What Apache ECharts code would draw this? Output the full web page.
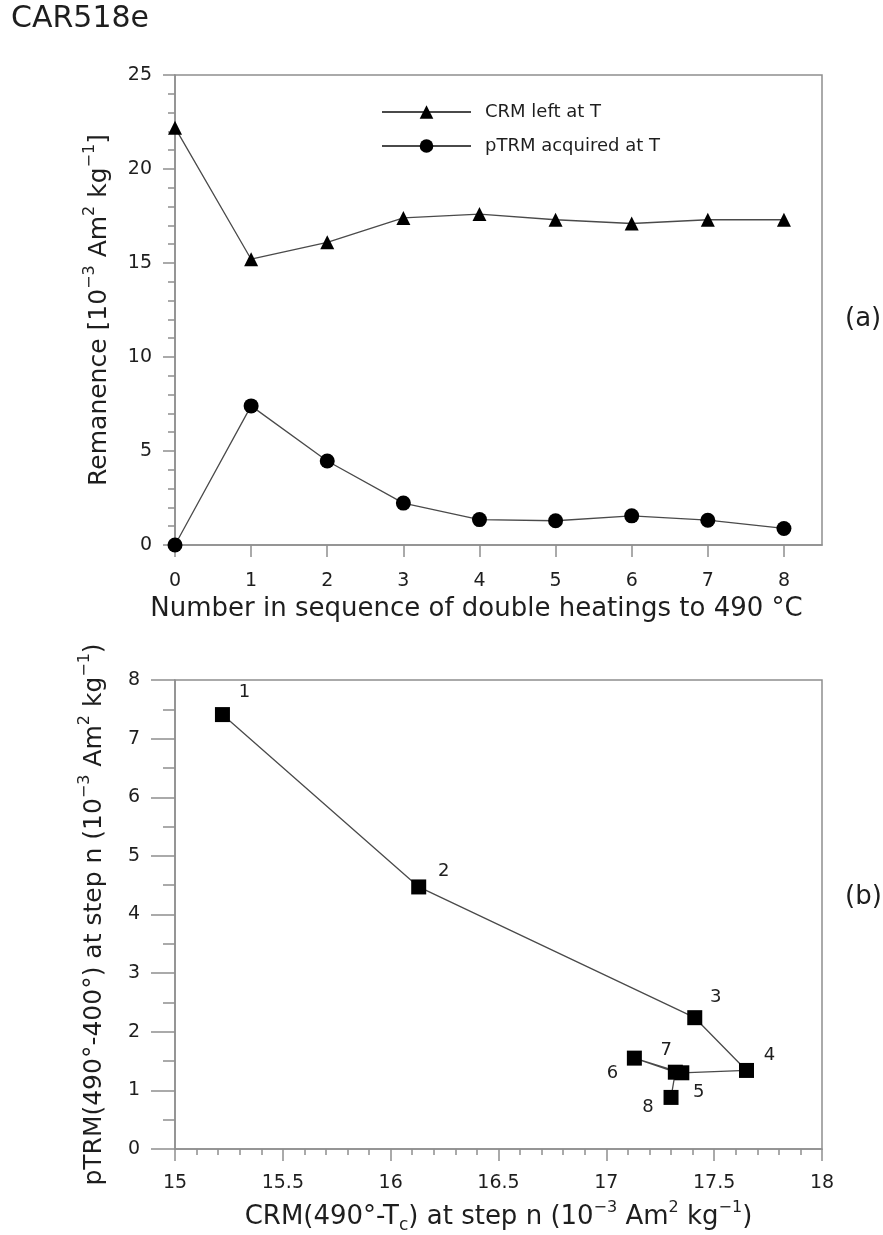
<!DOCTYPE html>
<html><head><meta charset="utf-8">
<script src="https://cdn.jsdelivr.net/npm/echarts@6/dist/echarts.min.js"></script>
<style>html,body{margin:0;padding:0;background:#fff}#c{width:883px;height:1235px}</style>
</head><body><div id="c"></div>
<script>
// ---- data ----
const seqSteps = [0, 1, 2, 3, 4, 5, 6, 7, 8];
const crmLeft = [22.2, 15.2, 16.1, 17.4, 17.6, 17.3, 17.1, 17.3, 17.3];
const ptrmAcq = [0, 7.4, 4.47, 2.23, 1.35, 1.29, 1.55, 1.32, 0.88];
const topXTicks = [0, 1, 2, 3, 4, 5, 6, 7, 8];
const stepLabels = ['1', '2', '3', '4', '5', '6', '7', '8'];
const crmStep = [15.22, 16.13, 17.41, 17.65, 17.35, 17.13, 17.32, 17.30];
const ptrmStep = [7.41, 4.47, 2.24, 1.34, 1.30, 1.55, 1.31, 0.88];
const seriesNames = ['CRM left at T', 'pTRM acquired at T'];

// ---- styling ----
const font = 'DejaVu Sans';
const axisGray = '#8e8e8e';
const ink = '#1e1e1e';
const lineInk = '#4a4a4a';
const stepLabelOffsets = [[22, -22], [25, -16], [21, -20], [23, -15], [17, 20], [-22, 15], [-9, -22], [-23, 10]];

const rich = {
  s: {fontSize: 16, fontFamily: font, color: ink, lineHeight: 16, verticalAlign: 'top'},
  sub: {fontSize: 17, fontFamily: font, color: ink, lineHeight: 17, verticalAlign: 'bottom'}
};
function nameStyle(size) {
  return {fontSize: size, fontFamily: font, color: ink, lineHeight: 34, rich: rich};
}
const axisLine = {show: true, onZero: false, lineStyle: {color: axisGray, width: 1.5}};
const tickLine = {color: axisGray, width: 1.5};
const labelStyle = (margin) => ({fontSize: 19, fontFamily: font, color: ink, margin: margin});

const chart = echarts.init(document.getElementById('c'), null, {renderer: 'canvas'});
chart.setOption({
  animation: false,
  backgroundColor: '#fff',
  title: {text: 'CAR518e', left: 11, top: 4, padding: 0,
    textStyle: {fontSize: 30, fontFamily: font, color: ink, fontWeight: 'normal'}},
  legend: {
    data: seriesNames, orient: 'vertical', left: 376, top: 98,
    itemWidth: 89, itemHeight: 17, itemGap: 16,
    textStyle: {fontSize: 18, fontFamily: font, color: ink, padding: [0, 0, 0, 9]}
  },
  grid: [
    {left: 175, top: 75, width: 647, height: 470, show: true, borderColor: axisGray, borderWidth: 1.5},
    {left: 175, top: 680, width: 647, height: 469, show: true, borderColor: axisGray, borderWidth: 1.5}
  ],
  xAxis: [
    {type: 'value', gridIndex: 0, min: 0, max: 8.5, interval: 1,
      axisLine: axisLine, splitLine: {show: false},
      axisTick: {show: true, length: 12, lineStyle: tickLine, customValues: topXTicks},
      axisLabel: Object.assign(labelStyle(27), {customValues: topXTicks}),
      name: 'Number in sequence of double heatings to 490 °C',
      nameLocation: 'middle', nameGap: 45, nameTextStyle: Object.assign(nameStyle(26), {padding: [0, 44, 0, 0]})},
    {type: 'value', gridIndex: 1, min: 15, max: 18, interval: 0.5,
      axisLine: axisLine, splitLine: {show: false},
      axisTick: {show: true, length: 12, lineStyle: tickLine},
      minorTick: {show: true, splitNumber: 5, length: 6, lineStyle: tickLine},
      axisLabel: labelStyle(25),
      name: 'CRM(490°-T{sub|c}) at step n (10{s|−3} Am{s|2} kg{s|−1})',
      nameLocation: 'middle', nameGap: 51, nameTextStyle: nameStyle(26)}
  ],
  yAxis: [
    {type: 'value', gridIndex: 0, min: 0, max: 25, interval: 5,
      axisLine: axisLine, splitLine: {show: false},
      axisTick: {show: true, length: 12, lineStyle: tickLine},
      minorTick: {show: true, splitNumber: 5, length: 7, lineStyle: tickLine},
      axisLabel: labelStyle(23),
      name: 'Remanence [10{s|−3} Am{s|2} kg{s|−1}]',
      nameLocation: 'middle', nameGap: 59, nameTextStyle: nameStyle(25)},
    {type: 'value', gridIndex: 1, min: 0, max: 8, interval: 1,
      axisLine: axisLine, splitLine: {show: false},
      axisTick: {show: true, length: 24, lineStyle: tickLine},
      minorTick: {show: true, splitNumber: 2, length: 12, lineStyle: tickLine},
      axisLabel: labelStyle(35),
      name: 'pTRM(490°-400°) at step n (10{s|−3} Am{s|2} kg{s|−1})',
      nameLocation: 'middle', nameGap: 64, nameTextStyle: nameStyle(25)}
  ],
  series: [
    {name: seriesNames[0], type: 'line', xAxisIndex: 0, yAxisIndex: 0, clip: false,
      data: seqSteps.map((x, i) => [x, crmLeft[i]]),
      symbol: 'triangle', symbolSize: 14, showAllSymbol: true,
      itemStyle: {color: '#000'}, lineStyle: {color: lineInk, width: 1.3}},
    {name: seriesNames[1], type: 'line', xAxisIndex: 0, yAxisIndex: 0, clip: false,
      data: seqSteps.map((x, i) => [x, ptrmAcq[i]]),
      symbol: 'circle', symbolSize: 15, showAllSymbol: true,
      itemStyle: {color: '#000'}, lineStyle: {color: lineInk, width: 1.3}},
    {name: 'steps', type: 'line', xAxisIndex: 1, yAxisIndex: 1, clip: false,
      data: crmStep.map((x, i) => ({
        value: [x, ptrmStep[i]], name: stepLabels[i],
        label: {offset: stepLabelOffsets[i]}
      })),
      symbol: 'rect', symbolSize: 15, showAllSymbol: true,
      itemStyle: {color: '#000'}, lineStyle: {color: lineInk, width: 1.3},
      label: {show: true, position: 'inside', formatter: (p) => p.name,
        fontSize: 18, fontFamily: font, color: ink}}
  ],
  graphic: [
    {type: 'text', left: 845, top: 306, style: {text: '(a)', fontSize: 26, fontFamily: font, fill: ink}},
    {type: 'text', left: 845, top: 884, style: {text: '(b)', fontSize: 26, fontFamily: font, fill: ink}}
  ]
});
</script></body></html>
